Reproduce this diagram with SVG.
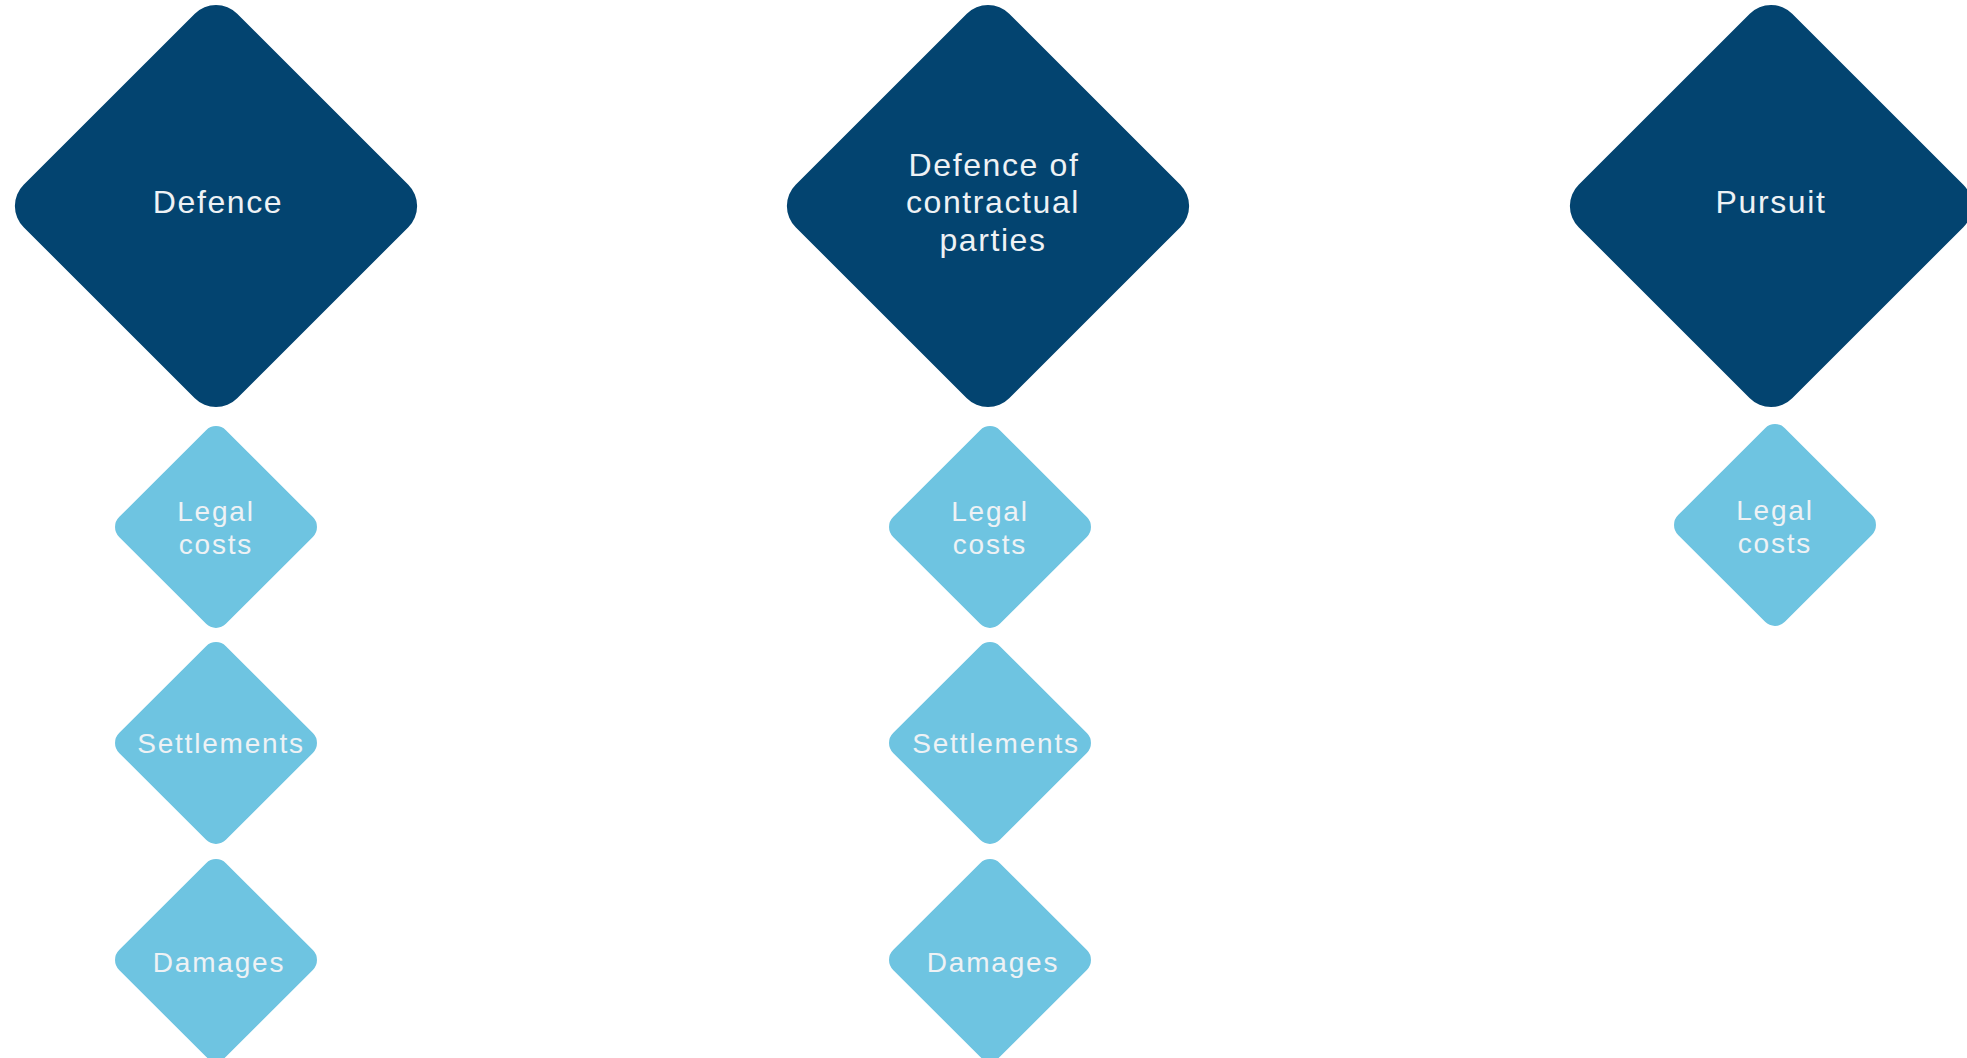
<svg xmlns="http://www.w3.org/2000/svg" xmlns:xlink="http://www.w3.org/1999/xlink" width="1967" height="1058" viewBox="0 0 1967 1058">
<style>
.big{fill:#034470}
.small{fill:#6EC4E1}
text{font-family:"Liberation Sans",Arial,sans-serif;font-weight:400;fill:#EEF2F5;text-anchor:middle}
.bt{font-size:32px;letter-spacing:1.6px}
.st{font-size:28px;letter-spacing:1.8px}
</style>
<defs>
<rect id="bigD" x="-151" y="-151" width="302" height="302" rx="30" ry="30" transform="rotate(45)"/>
<rect id="smallD" x="-75.5" y="-75.5" width="151" height="151" rx="14" ry="14" transform="rotate(45)"/>
</defs>
<rect width="1967" height="1058" fill="#FFFFFF"/>
<g id="connectors"/>
<g id="defence">
<use xlink:href="#bigD" class="big" transform="translate(216,206)"/>
<text class="bt" x="218" y="213">Defence</text>
</g>
<g id="defence-contractual">
<use xlink:href="#bigD" class="big" transform="translate(988,206)"/>
<text class="bt"><tspan x="994" y="176">Defence of</tspan><tspan x="993" y="213">contractual</tspan><tspan x="993" y="251">parties</tspan></text>
</g>
<g id="pursuit">
<use xlink:href="#bigD" class="big" transform="translate(1771,206)"/>
<text class="bt" x="1771" y="213">Pursuit</text>
</g>
<g id="defence-legal-costs">
<use xlink:href="#smallD" class="small" transform="translate(216,527)"/>
<text class="st"><tspan x="216" y="521">Legal</tspan><tspan x="216" y="554">costs</tspan></text>
</g>
<g id="defence-settlements">
<use xlink:href="#smallD" class="small" transform="translate(216,743)"/>
<text class="st" x="221" y="753">Settlements</text>
</g>
<g id="defence-damages">
<use xlink:href="#smallD" class="small" transform="translate(216,960)"/>
<text class="st" x="219" y="972">Damages</text>
</g>
<g id="contractual-legal-costs">
<use xlink:href="#smallD" class="small" transform="translate(990,527)"/>
<text class="st"><tspan x="990" y="521">Legal</tspan><tspan x="990" y="554">costs</tspan></text>
</g>
<g id="contractual-settlements">
<use xlink:href="#smallD" class="small" transform="translate(990,743)"/>
<text class="st" x="996" y="753">Settlements</text>
</g>
<g id="contractual-damages">
<use xlink:href="#smallD" class="small" transform="translate(990,960)"/>
<text class="st" x="993" y="972">Damages</text>
</g>
<g id="pursuit-legal-costs">
<use xlink:href="#smallD" class="small" transform="translate(1775,525)"/>
<text class="st"><tspan x="1775" y="520">Legal</tspan><tspan x="1775" y="553">costs</tspan></text>
</g>
</svg>
